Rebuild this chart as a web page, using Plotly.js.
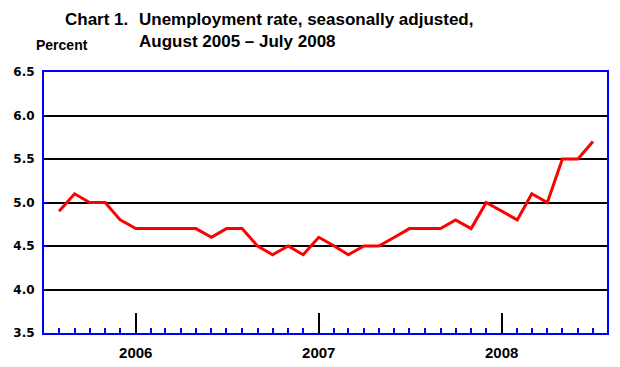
<!DOCTYPE html>
<html>
<head>
<meta charset="utf-8">
<script src="https://cdn.plot.ly/plotly-3.0.1.min.js"></script>
<style>html,body{margin:0;padding:0;background:#fff;}#chart{width:620px;height:367px;}</style>
</head>
<body>
<div id="chart"></div>
<script>
// Months Aug 2005 – Jul 2008
const months = [
  '2005-08-01','2005-09-01','2005-10-01','2005-11-01','2005-12-01',
  '2006-01-01','2006-02-01','2006-03-01','2006-04-01','2006-05-01','2006-06-01',
  '2006-07-01','2006-08-01','2006-09-01','2006-10-01','2006-11-01','2006-12-01',
  '2007-01-01','2007-02-01','2007-03-01','2007-04-01','2007-05-01','2007-06-01',
  '2007-07-01','2007-08-01','2007-09-01','2007-10-01','2007-11-01','2007-12-01',
  '2008-01-01','2008-02-01','2008-03-01','2008-04-01','2008-05-01','2008-06-01',
  '2008-07-01'
];
const unemploymentRate = [
  4.9, 5.1, 5.0, 5.0, 4.8,
  4.7, 4.7, 4.7, 4.7, 4.7, 4.6,
  4.7, 4.7, 4.5, 4.4, 4.5, 4.4,
  4.6, 4.5, 4.4, 4.5, 4.5, 4.6,
  4.7, 4.7, 4.7, 4.8, 4.7, 5.0,
  4.9, 4.8, 5.1, 5.0, 5.5, 5.5,
  5.7
];
const yearTickVals = ['2006-01-01','2007-01-01','2008-01-01'];
const yearTickText = ['2006','2007','2008'];
const yTickVals = [3.5, 4.0, 4.5, 5.0, 5.5, 6.0, 6.5];

const L = 44, R = 13, T = 72, B = 34, W = 620, H = 367;
const pw = W - L - R, ph = H - T - B;
const px = x => (x - L) / pw;
const py = y => (H - B - y) / ph;

const titleFont = {family: 'Liberation Sans, Arial, sans-serif', size: 17, color: '#000', weight: 700};

const data = [{
  x: months,
  y: unemploymentRate,
  type: 'scatter',
  mode: 'lines',
  line: {color: '#ff0000', width: 3},
  hoverinfo: 'skip'
}];

const layout = {
  width: W, height: H,
  margin: {l: L, r: R, t: T, b: B, pad: 0},
  paper_bgcolor: '#fff', plot_bgcolor: '#fff',
  showlegend: false,
  xaxis: {
    type: 'date',
    range: ['2005-07-02', '2008-07-29'],
    tickmode: 'array',
    tickvals: yearTickVals,
    ticktext: yearTickText,
    ticks: 'inside',
    ticklen: 20,
    tickwidth: 2,
    tickcolor: '#000',
    showgrid: false,
    zeroline: false,
    showline: true,
    linecolor: '#0000ff',
    linewidth: 2,
    mirror: true,
    ticklabelstandoff: 5,
    tickfont: {family: 'Liberation Sans, Arial, sans-serif', size: 15, color: '#000', weight: 700},
    minor: {
      dtick: 'M1',
      tick0: '2005-08-01',
      ticks: 'inside',
      ticklen: 5,
      tickwidth: 2,
      tickcolor: '#0000ff',
      showgrid: false
    },
    fixedrange: true
  },
  yaxis: {
    range: [3.5, 6.5],
    tickmode: 'array',
    tickvals: yTickVals,
    tickformat: '.1f',
    ticks: 'inside',
    ticklen: 3,
    tickcolor: '#0000ff',
    showgrid: true,
    gridcolor: '#000',
    gridwidth: 2,
    zeroline: false,
    showline: true,
    linecolor: '#0000ff',
    linewidth: 2,
    mirror: true,
    ticklabelstandoff: 5,
    tickfont: {family: 'DejaVu Sans, Verdana, sans-serif', size: 12, color: '#000', weight: 700},
    fixedrange: true
  },
  annotations: [
    {text: 'Chart 1.', xref: 'paper', yref: 'paper', x: px(63), y: py(19), xanchor: 'left', yanchor: 'middle', showarrow: false, font: titleFont},
    {text: 'Unemployment rate, seasonally adjusted,', xref: 'paper', yref: 'paper', x: px(137), y: py(19), xanchor: 'left', yanchor: 'middle', showarrow: false, font: titleFont},
    {text: 'August 2005 – July 2008', xref: 'paper', yref: 'paper', x: px(137), y: py(41), xanchor: 'left', yanchor: 'middle', showarrow: false, font: titleFont},
    {text: 'Percent', xref: 'paper', yref: 'paper', x: px(34), y: py(45), xanchor: 'left', yanchor: 'middle', showarrow: false, font: {family: 'Liberation Sans, Arial, sans-serif', size: 14, color: '#000', weight: 700}}
  ]
};

Plotly.newPlot('chart', data, layout, {displayModeBar: false, staticPlot: true});
</script>
</body>
</html>
